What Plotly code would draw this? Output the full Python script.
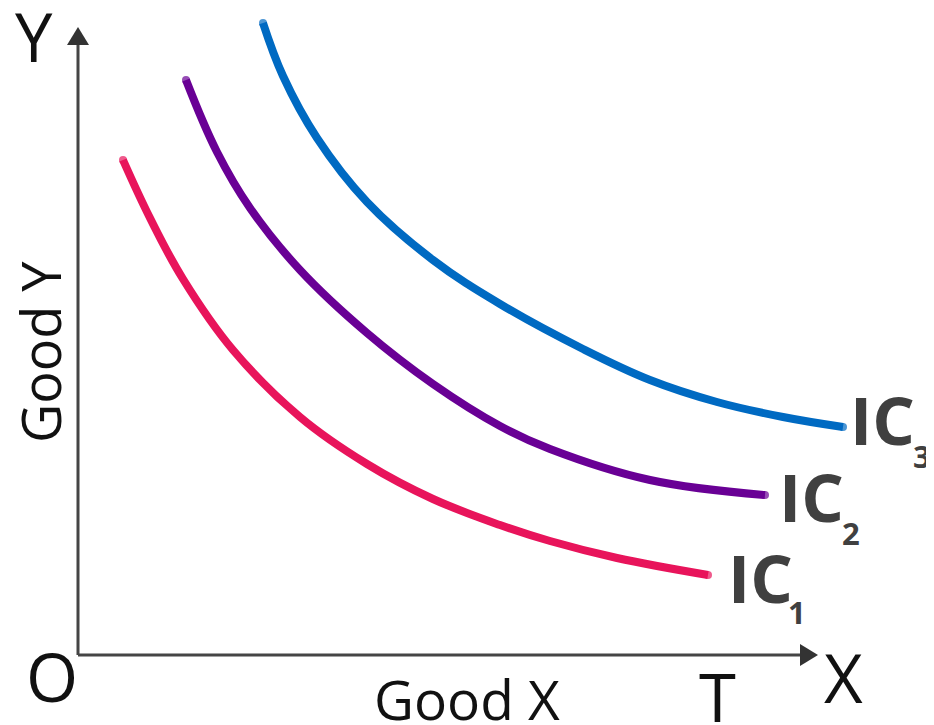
import plotly.graph_objects as go

# Indifference curves (Good X, Good Y)
ic1_x = [45, 72, 105, 155, 222, 289, 355, 422, 472, 539, 630]
ic1_y = [495, 437, 376, 305, 238, 191, 156, 130, 114, 97, 80]

ic2_x = [108, 139, 172, 222, 289, 355, 422, 472, 572, 687]
ic2_y = [575, 503, 447, 385, 322, 271, 229, 206, 175, 160]

ic3_x = [185, 205, 239, 289, 355, 422, 505, 572, 639, 705, 765]
ic3_y = [632, 579, 517, 453, 395, 351, 306, 275, 253, 238, 228]

curve_names = ["IC1", "IC2", "IC3"]
curve_colors = ["#E8145B", "#690095", "#006AC2"]

fig = go.Figure()
for xs, ys, name, col in zip([ic1_x, ic2_x, ic3_x], [ic1_y, ic2_y, ic3_y], curve_names, curve_colors):
    sizes = [8] + [0] * (len(xs) - 2) + [8]
    fig.add_trace(go.Scatter(
        x=xs, y=ys, mode="lines+markers", name=name,
        line=dict(color=col, width=8, shape="spline", smoothing=1.1),
        marker=dict(color=col, size=sizes, line=dict(width=0)),
        hoverinfo="skip", showlegend=False,
    ))

axis_col = "#454545"
# axes with arrowheads
fig.add_shape(type="line", x0=0, y0=0, x1=0, y1=612, line=dict(color=axis_col, width=3))
fig.add_shape(type="line", x0=0, y0=0, x1=724, y1=0, line=dict(color=axis_col, width=3))
fig.add_shape(type="path", path="M -11 610 L 11 610 L 0 628 Z", fillcolor="#333333", line=dict(width=0))
fig.add_shape(type="path", path="M 722 -11 L 722 11 L 740 0 Z", fillcolor="#333333", line=dict(width=0))

txt_font = "Open Sans"
def label(text, x, y, size, color="#111111", bold=False, angle=0):
    t = f"<b>{text}</b>" if bold else text
    fig.add_annotation(x=x, y=y, text=t, showarrow=False, xanchor="center", yanchor="middle",
                       textangle=angle, font=dict(family=txt_font, size=size, color=color))

label("Y", -44, 619, 67)
label("O", -26, -21, 67)
label("X", 765, -22, 67)
label("T", 639, -41, 67)
label("Good X", 389, -43, 55)
label("Good Y", -38, 303, 54, angle=-90)

ic_col = "#404040"
label("IC", 804, 236, 67, ic_col, bold=True)
label("3", 844, 199, 31, ic_col, bold=True)
label("IC", 733, 159, 67, ic_col, bold=True)
label("2", 773, 122, 31, ic_col, bold=True)
label("IC", 682, 78, 67, ic_col, bold=True)
label("1", 719, 43, 31, ic_col, bold=True)

# the page has an 8px body margin; the figure is 926x717 so that the origin sits at (78, 655)
fig.update_layout(
    width=926, height=717, autosize=False,
    margin=dict(l=0, r=0, t=0, b=0),
    paper_bgcolor="white", plot_bgcolor="white",
    xaxis=dict(range=[-70, 856], visible=False, fixedrange=True),
    yaxis=dict(range=[-70, 647], visible=False, fixedrange=True),
)
fig.write_html("out.html", config={"displayModeBar": False})
